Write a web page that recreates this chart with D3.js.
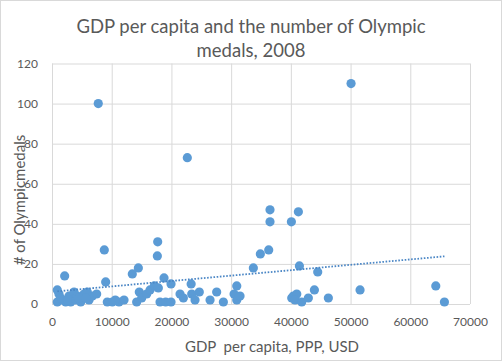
<!DOCTYPE html>
<html>
<head>
<meta charset="utf-8">
<script src="https://cdn.jsdelivr.net/npm/d3@7"></script>
<style>
  html, body { margin: 0; padding: 0; background: #fff; }
  svg { display: block; }
  text { font-family: Lato, "Liberation Sans", sans-serif; fill: #595959; }
</style>
</head>
<body>
<div id="chart"></div>
<script>
// GDP per capita (PPP, USD) and medal count
const gdpPerCapita = [
  890, 2120, 1170, 890, 1730, 2290, 2850, 3130, 3690, 3970,
  4240, 4810, 5360, 5910, 6200, 6750, 7480, 7750, 8760, 8990,
  9260, 10100, 11220, 12060, 13450, 14460, 14180, 14620, 15020, 15860,
  16420, 17140, 17700, 17640, 17810, 18760, 19930, 18090, 19040, 19930,
  21440, 22000, 22660, 23300, 23400, 23950, 24670, 26470, 27580, 28700,
  30490, 30940, 30940, 31490, 33720, 34890, 36290, 36510, 36510, 40090,
  41260, 41430, 44500, 43940, 40150, 40420, 40990, 40700, 41820, 42930,
  46280, 50080, 51590, 64270, 65720, 1450, 2600, 4500, 5700, 10600
];
const medals = [
  7, 14, 5, 1, 2, 1, 4, 1, 6, 2,
  4, 1, 5, 6, 2, 4, 5, 100, 27, 11,
  1, 1, 1, 2, 15, 18, 1, 6, 3, 5,
  7, 9, 31, 24, 8, 13, 10, 1, 1, 1,
  5, 3, 73, 10, 5, 2, 6, 2, 6, 1,
  5, 9, 2, 4, 18, 25, 27, 41, 47, 41,
  46, 19, 16, 7, 3, 4, 5, 2, 1, 3,
  3, 110, 7, 9, 1, 3, 2, 3, 3, 2
];
const xTicks = [0, 10000, 20000, 30000, 40000, 50000, 60000, 70000];
const yTicks = [0, 20, 40, 60, 80, 100, 120];

const titleLines = ['GDP per capita and the number of Olympic', 'medals, 2008'];
const xTitle = 'GDP  per capita, PPP, USD';
const yTitle = '# of Olympicmedals';

const W = 502, H = 361;
const margin = { top: 63.5, right: 32, bottom: 57, left: 52 };
const blue = '#5b9bd5';
const grid = '#d9d9d9';

const points = gdpPerCapita.map((g, i) => ({ x: g, y: medals[i] }));

const svg = d3.select('#chart').append('svg')
  .attr('width', W)
  .attr('height', H);

// chart border
svg.append('rect')
  .attr('x', 0.5).attr('y', 0.5)
  .attr('width', W - 1).attr('height', H - 1)
  .attr('fill', '#fff')
  .attr('stroke', grid);

const x = d3.scaleLinear().domain([0, 70000]).range([margin.left, W - margin.right]);
const y = d3.scaleLinear().domain([0, 120]).range([H - margin.bottom, margin.top]);

// grid lines
svg.append('g')
  .attr('transform', `translate(0,${H - margin.bottom})`)
  .call(d3.axisBottom(x).tickValues(xTicks).tickSize(-(y(0) - y(120))).tickFormat(''))
  .call(g => g.select('.domain').remove())
  .call(g => g.selectAll('.tick line').attr('stroke', grid));

svg.append('g')
  .attr('transform', `translate(${margin.left},0)`)
  .call(d3.axisLeft(y).tickValues(yTicks).tickSize(-(x(70000) - x(0))).tickFormat(''))
  .call(g => g.select('.domain').remove())
  .call(g => g.selectAll('.tick line').attr('stroke', grid));

// tick labels
svg.append('g')
  .attr('transform', `translate(0,${H - margin.bottom})`)
  .call(d3.axisBottom(x).tickValues(xTicks).tickSize(0).tickPadding(13).tickFormat(d3.format('d')))
  .call(g => g.select('.domain').remove())
  .call(g => g.selectAll('.tick text')
    .style('font-family', 'Lato, sans-serif')
    .style('font-size', '12px')
    .attr('fill', '#595959'));

svg.append('g')
  .attr('transform', `translate(${margin.left},0)`)
  .call(d3.axisLeft(y).tickValues(yTicks).tickSize(0).tickPadding(14).tickFormat(d3.format('d')))
  .call(g => g.select('.domain').remove())
  .call(g => g.selectAll('.tick text')
    .style('font-family', 'Lato, sans-serif')
    .style('font-size', '12px')
    .attr('fill', '#595959'));

// points
svg.append('g')
  .selectAll('circle')
  .data(points)
  .join('circle')
  .attr('cx', d => x(d.x))
  .attr('cy', d => y(d.y))
  .attr('r', 4.6)
  .attr('fill', blue);

// linear trendline (least squares)
const mx = d3.mean(points, d => d.x);
const my = d3.mean(points, d => d.y);
const slope = d3.sum(points, d => (d.x - mx) * (d.y - my)) / d3.sum(points, d => (d.x - mx) ** 2);
const intercept = my - slope * mx;
const xr = d3.extent(points, d => d.x);
svg.append('path')
  .datum(xr.map(v => ({ x: v, y: intercept + slope * v })))
  .attr('fill', 'none')
  .attr('stroke', '#4a86c5')
  .attr('stroke-width', 1.8)
  .attr('stroke-dasharray', '1.6 1.6')
  .attr('d', d3.line().x(d => x(d.x)).y(d => y(d.y)));

// title
svg.append('g')
  .selectAll('text')
  .data(titleLines)
  .join('text')
  .attr('x', 251)
  .attr('y', (d, i) => 33 + i * 24)
  .attr('text-anchor', 'middle')
  .style('font-size', '18.5px')
  .text(d => d);

// axis titles
svg.append('text')
  .attr('x', 272)
  .attr('y', 352)
  .attr('text-anchor', 'middle')
  .attr('xml:space', 'preserve')
  .style('white-space', 'pre')
  .style('font-size', '15px')
  .text(xTitle);

svg.append('text')
  .attr('transform', 'translate(25,200) rotate(-90)')
  .attr('text-anchor', 'middle')
  .style('font-size', '15px')
  .text(yTitle);
</script>
</body>
</html>
